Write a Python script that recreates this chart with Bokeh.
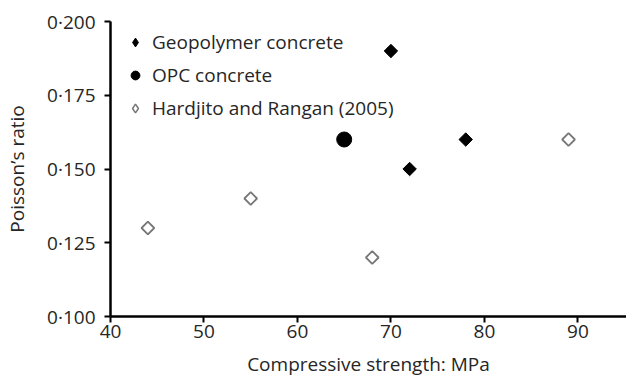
from bokeh.plotting import figure
from bokeh.models import FixedTicker, Range1d, Legend, LegendItem
from bokeh.embed import file_html
from bokeh.resources import INLINE
import math

geo_x = [70, 72, 78]
geo_y = [0.190, 0.150, 0.160]
opc_x = [65]
opc_y = [0.160]
hr_x = [44, 55, 68, 89]
hr_y = [0.130, 0.140, 0.120, 0.160]

x_ticks = [40, 50, 60, 70, 80, 90]
y_ticks = [0.100, 0.125, 0.150, 0.175, 0.200]
y_tick_labels = ["0·100", "0·125", "0·150", "0·175", "0·200"]

FONT = "Open Sans"
TXT = "#262626"
FS = "19px"
NAN = float("nan")

p = figure(width=626, height=379, output_backend="svg", toolbar_location=None,
           x_range=Range1d(40, 95.2), y_range=Range1d(0.100, 0.200),
           min_border_left=110, min_border_top=21, min_border_bottom=62, min_border_right=0)
p.outline_line_color = None
p.grid.visible = False
p.background_fill_color = "white"

A = math.pi / 4
p.scatter(geo_x, geo_y, marker="square", angle=A, size=9.5, fill_color="black", line_color="black")
p.scatter(opc_x, opc_y, marker="circle", size=15, fill_color="black", line_color="black")
p.scatter(hr_x, hr_y, marker="square", angle=A, size=9, fill_color="white", line_color="#777777", line_width=1.8)

# legend proxies (smaller glyphs, off-data)
l1 = p.scatter([NAN], [NAN], marker="diamond", size=13, fill_color="black", line_color="black")
l2 = p.scatter([NAN], [NAN], marker="circle", size=11, fill_color="black", line_color="black")
l3 = p.scatter([NAN], [NAN], marker="diamond", size=12, fill_color="white", line_color="#777777", line_width=1.5)

for ax in (p.xaxis[0], p.yaxis[0]):
    ax.axis_line_width = 2.5
    ax.axis_line_color = "black"
    ax.major_tick_line_width = 2
    ax.major_tick_line_color = "black"
    ax.major_tick_out = 6
    ax.major_tick_in = 0
    ax.minor_tick_line_color = None
    ax.major_label_text_font = FONT
    ax.major_label_text_font_size = FS
    ax.major_label_text_color = TXT
    ax.axis_label_text_font = FONT
    ax.axis_label_text_font_size = FS
    ax.axis_label_text_font_style = "normal"
    ax.axis_label_text_color = TXT

p.xaxis.ticker = FixedTicker(ticks=x_ticks)
p.yaxis.ticker = FixedTicker(ticks=y_ticks)
p.yaxis.major_label_overrides = {t: l for t, l in zip(y_ticks, y_tick_labels)}
p.xaxis.axis_label = "Compressive strength: MPa"
p.yaxis.axis_label = "Poisson\u2019s ratio"
p.xaxis.major_label_standoff = 2
p.xaxis.axis_label_standoff = 10
p.yaxis.major_label_standoff = 9
p.yaxis.axis_label_standoff = 14

legend = Legend(items=[
    LegendItem(label="Geopolymer concrete", renderers=[l1]),
    LegendItem(label="OPC concrete", renderers=[l2]),
    LegendItem(label="Hardjito and Rangan (2005)", renderers=[l3]),
], location="top_left")
legend.border_line_color = None
legend.background_fill_alpha = 0
legend.margin = 8
legend.padding = 10
legend.spacing = 7
legend.label_standoff = 0
legend.label_text_font = FONT
legend.label_text_font_size = FS
legend.label_text_color = TXT
legend.glyph_width = 34
legend.glyph_height = 22
p.add_layout(legend)

open("out.html", "w").write(file_html(p, INLINE))
